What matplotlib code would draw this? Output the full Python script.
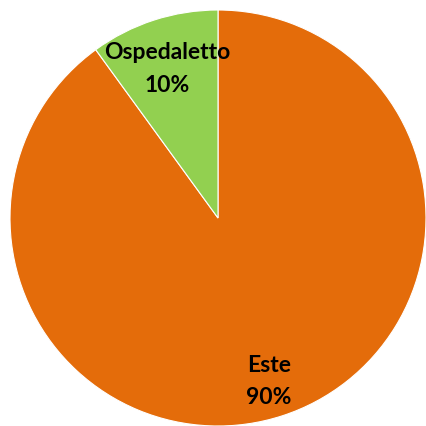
import matplotlib.pyplot as plt
import numpy as np

# dati
categorie = ['Este', 'Ospedaletto']
valori = [90, 10]
colori = ['#E46C0A', '#92D050']

fig = plt.figure(figsize=(4.27, 4.27), dpi=100)
# centro (218, 219) px dall'alto, raggio ~208 px
r = 208
ax = fig.add_axes([(218 - r) / 427, (208 - r) / 427, 2 * r / 427, 2 * r / 427])

wedges, _ = ax.pie(valori, colors=colori, startangle=90, counterclock=False,
                   radius=1, wedgeprops=dict(linewidth=0.8, edgecolor='white'))
ax.set_xlim(-1, 1)
ax.set_ylim(-1, 1)
ax.set_aspect('equal')
ax.axis('off')

totale = sum(valori)
for w, nome, v in zip(wedges, categorie, valori):
    ang = np.deg2rad((w.theta1 + w.theta2) / 2)
    x, y = 0.79 * np.cos(ang), 0.79 * np.sin(ang) - 0.03
    ax.text(x, y, f'{nome}\n{v / totale * 100:.0f}%', ha='center', va='center',
            fontsize=16.5, fontweight='bold', family='Lato', linespacing=1.7)

plt.savefig('out.png', dpi=100)
